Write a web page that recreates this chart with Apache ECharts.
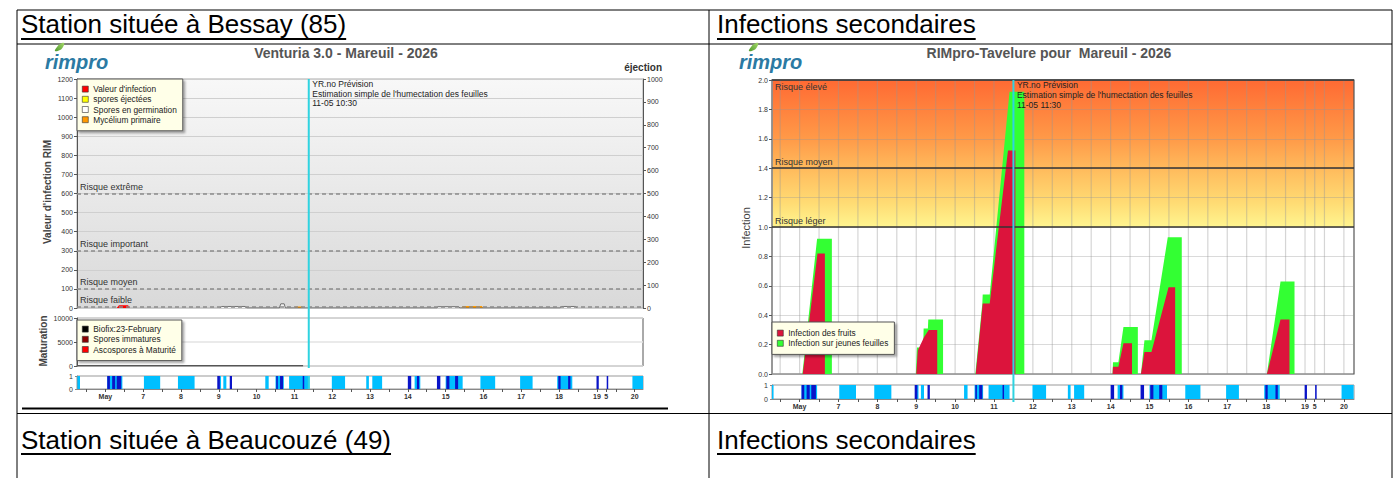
<!DOCTYPE html>
<html><head><meta charset="utf-8">
<script src="https://cdn.jsdelivr.net/npm/echarts@6/dist/echarts.min.js"></script>
<style>html,body{margin:0;padding:0;background:#fff}#c{width:1394px;height:478px}</style>
</head><body><div id="c"></div>
<script>
// ================= DATA =================
const headerLeftTop = 'Station située à Bessay (85)';
const headerRightTop = 'Infections secondaires';
const headerLeftBottom = 'Station située à Beaucouzé (49)';
const headerRightBottom = 'Infections secondaires';
const leftTitle = 'Venturia 3.0 - Mareuil - 2026';
const rightTitle = 'RIMpro-Tavelure pour  Mareuil - 2026';

// x axis in days of May
const leftXMin = 5.25, leftXMax = 20.22;
const rightXMin = 5.29, rightXMax = 20.26;
const dayTickValues = [6, 7, 8, 9, 10, 11, 12, 13, 14, 15, 16, 17, 18, 19, 19.25, 20];
const dayTickLabels = ['May', '7', '8', '9', '10', '11', '12', '13', '14', '15', '16', '17', '18', '19', '5', '20'];
const halfDayTicks = [5.5, 6, 6.5, 7, 7.5, 8, 8.5, 9, 9.5, 10, 10.5, 11, 11.5, 12, 12.5, 13, 13.5, 14, 14.5, 15, 15.5, 16, 16.5, 17, 17.5, 18, 18.5, 19, 19.25, 19.5, 20];

// leaf wetness (light blue) and rain (dark blue) periods [start, end]
const wetBands = [[5.26, 5.33], [6.05, 6.45], [7.02, 7.45], [7.92, 8.36], [9.02, 9.05], [9.12, 9.2], [10.23, 10.32], [10.5, 10.72], [10.86, 11.4], [11.99, 12.34], [12.9, 12.97], [13.06, 13.32], [14.18, 14.33], [15.0, 15.45], [15.92, 16.31], [16.97, 17.3], [17.95, 18.35], [19.94, 20.25]];
const rainBands = [[6.05, 6.12], [6.18, 6.26], [6.3, 6.42], [8.96, 9.03], [9.29, 9.35], [10.52, 10.56], [10.62, 10.7], [11.22, 11.25], [14.0, 14.09], [14.24, 14.3], [14.77, 14.86], [15.02, 15.1], [15.25, 15.33], [17.98, 18.04], [18.24, 18.3], [18.99, 19.05], [19.26, 19.3]];

// Venturia chart (left)
const rimInfection = [[6.3, 0], [6.36, 14], [6.6, 14], [6.65, 0]];
const sporesEjected = [];
const sporesGermination = [[9.03, 0], [9.08, 8], [9.7, 8], [9.74, 0], [10.6, 0], [10.64, 22], [10.73, 22], [10.76, 0], [14.76, 0], [14.8, 7], [15.34, 7], [15.38, 0], [18.03, 0], [18.07, 8], [18.44, 8], [18.47, 0]];
const myceliumPrimary = [[11.01, 0], [11.03, 8], [11.21, 8], [11.23, 0], [15.42, 0], [15.45, 10], [15.96, 10], [15.99, 0]];
const leftRiskValues = [600, 300, 100, 8];
const leftRiskLabels = ['Risque extrême', 'Risque important', 'Risque moyen', 'Risque faible'];
const biofixLine = [[5.25, 60], [11.23, 60]];
const sporesImmatures = [];
const ascosporesMature = [];
const leftForecast = 11.38;
const leftForecastNote = ['YR.no Prévision', "Estimation simple de l'humectation des feuilles", '11-05 10:30'];

// RIMpro-Tavelure chart (right)
const fruitInfection = [[6.08, 0], [6.46, 0.82], [6.65, 0.82], [6.65, 0], [9.0, 0], [9.04, 0.16], [9.2, 0.25], [9.32, 0.30], [9.54, 0.30], [9.54, 0], [10.53, 0], [10.71, 0.48], [10.89, 0.48], [11.36, 1.52], [11.55, 1.52], [11.55, 0], [14.05, 0], [14.06, 0.05], [14.2, 0.05], [14.33, 0.21], [14.55, 0.21], [14.55, 0], [14.78, 0], [14.87, 0.15], [15.05, 0.15], [15.49, 0.59], [15.66, 0.59], [15.66, 0], [18.02, 0], [18.37, 0.37], [18.6, 0.37], [18.6, 0]];
const leafInfection = [[6.07, 0], [6.45, 0.92], [6.83, 0.92], [6.83, 0], [8.99, 0], [9.02, 0.18], [9.18, 0.18], [9.19, 0.31], [9.3, 0.31], [9.31, 0.37], [9.69, 0.37], [9.69, 0], [10.52, 0], [10.7, 0.48], [10.71, 0.54], [10.89, 0.54], [11.4, 1.92], [11.78, 1.92], [11.78, 0], [14.05, 0], [14.06, 0.08], [14.2, 0.08], [14.33, 0.32], [14.7, 0.32], [14.7, 0], [14.78, 0], [14.87, 0.23], [15.05, 0.23], [15.47, 0.93], [15.83, 0.93], [15.83, 0], [18.02, 0], [18.37, 0.63], [18.73, 0.63], [18.73, 0]];
const rightRiskValues = [2.0, 1.4, 1.0];
const rightRiskLabels = ['Risque élevé', 'Risque moyen', 'Risque léger'];
const rightForecast = 11.50;
const rightForecastNote = ['YR.no Prévision', "Estimation simple de l'humectation des feuilles", '11-05 11:30'];

// ================= LAYOUT =================
const FONT = '"Liberation Sans", Arial, sans-serif';
const L = {
  lm: {left: 77, top: 79, width: 566, height: 229},
  lmat: {left: 77, top: 318, width: 566, height: 48},
  lstrip: {left: 77, top: 376, width: 566, height: 13},
  rm: {left: 772, top: 80, width: 582, height: 294},
  rstrip: {left: 772, top: 385, width: 582, height: 14}
};
const WET = '#00bfff', RAIN = '#0a14c8', CYAN = '#2fd3e0';

const measureCtx = document.createElement('canvas').getContext('2d');
function textWidth(t, font) { measureCtx.font = font; return measureCtx.measureText(t).width; }

const HEAD_SIZE = 26;
const headFont = HEAD_SIZE + 'px "Liberation Sans", Arial, sans-serif';

function header(text, x, yMid, underlineY) {
  const w = textWidth(text, headFont);
  return [
    {type: 'text', x: x, y: yMid, style: {text, fontSize: HEAD_SIZE, fontFamily: FONT, fill: '#000', verticalAlign: 'middle'}},
    {type: 'line', shape: {x1: x, y1: underlineY, x2: x + w, y2: underlineY}, style: {stroke: '#000', lineWidth: 1.8}}
  ];
}
function hline(y, x1, x2, w) { return {type: 'line', shape: {x1, y1: y, x2, y2: y}, style: {stroke: '#000', lineWidth: w || 1}}; }
function vline(x, y1, y2, w) { return {type: 'line', shape: {x1: x, y1, x2: x, y2}, style: {stroke: '#000', lineWidth: w || 1}}; }
function logo(x, y) {
  return [
    {type: 'polygon', shape: {points: [[x + 10, y - 1], [x + 12, y - 5], [x + 15, y - 8], [x + 19, y - 9], [x + 18, y - 5], [x + 15, y - 2]], smooth: 0.5},
      style: {fill: new echarts.graphic.LinearGradient(0, 1, 1, 0, [{offset: 0, color: '#4e9a2c'}, {offset: 1, color: '#a6d96a'}])}},
    {type: 'text', x: x, y: y, style: {text: 'rimpro', fontSize: 20, fontStyle: 'italic', fontWeight: 'bold', fontFamily: FONT, fill: '#2b7aa3', verticalAlign: 'top'}}
  ];
}

const graphics = [].concat(
  [hline(10, 17, 1392, 1), hline(44, 17, 1392, 1), hline(408.5, 22, 668, 2), hline(413.5, 17, 1392, 1),
   vline(17, 10, 478), vline(709, 10, 478), vline(1392, 10, 478)],
  header(headerLeftTop, 21, 24, 39),
  header(headerRightTop, 717, 24, 39),
  header(headerLeftBottom, 21, 440, 454),
  header(headerRightBottom, 717, 440, 454),
  logo(45, 52), logo(739, 52),
  [
    {type: 'text', x: 346, y: 53, style: {text: leftTitle, fontSize: 14, fontWeight: 'bold', fontFamily: FONT, fill: '#555', align: 'center', verticalAlign: 'middle'}},
    {type: 'text', x: 1049, y: 53, style: {text: rightTitle, fontSize: 14, fontWeight: 'bold', fontFamily: FONT, fill: '#555', align: 'center', verticalAlign: 'middle'}},
    {type: 'text', x: 662, y: 67, style: {text: 'éjection', fontSize: 10, fontWeight: 'bold', fontFamily: FONT, fill: '#333', align: 'right', verticalAlign: 'middle'}},
    {type: 'text', x: 47, y: 192, rotation: Math.PI / 2, style: {text: "Valeur d'infection RIM", fontSize: 10, fontWeight: 'bold', fontFamily: FONT, fill: '#444', align: 'center', verticalAlign: 'middle'}},
    {type: 'text', x: 43, y: 341, rotation: Math.PI / 2, style: {text: 'Maturation', fontSize: 10, fontWeight: 'bold', fontFamily: FONT, fill: '#444', align: 'center', verticalAlign: 'middle'}},
    {type: 'text', x: 746, y: 228, rotation: Math.PI / 2, style: {text: 'Infection', fontSize: 11, fontFamily: FONT, fill: '#444', align: 'center', verticalAlign: 'middle'}}
  ]
);

const plain = v => String(v);
const smallLabel = {fontSize: 7, color: '#333', fontFamily: FONT, formatter: plain};
function hiddenX(gi, min, max) {
  return {type: 'value', gridIndex: gi, min, max, axisLine: {show: false}, axisTick: {show: false}, axisLabel: {show: false}, splitLine: {show: false}};
}
function stripX(gi, min, max) {
  return {
    type: 'value', gridIndex: gi, min, max,
    axisLine: {show: true, lineStyle: {color: '#888'}},
    axisTick: {show: true, length: 3, customValues: halfDayTicks, lineStyle: {color: '#555'}},
    axisLabel: {show: true, customValues: dayTickValues, margin: 4, fontSize: 7, fontWeight: 'bold', color: '#333', fontFamily: FONT,
      formatter: v => { const i = dayTickValues.indexOf(v); return i >= 0 ? dayTickLabels[i] : ''; }},
    splitLine: {show: false}
  };
}
function stripY(gi) {
  return {type: 'value', gridIndex: gi, min: 0, max: 1, interval: 1, axisLine: {show: true, lineStyle: {color: '#888'}},
    axisTick: {show: true, length: 2}, axisLabel: Object.assign({margin: 4}, smallLabel), splitLine: {show: false}};
}
function bandSeries(xi, yi, bands, color) {
  return {
    type: 'custom', xAxisIndex: xi, yAxisIndex: yi, data: bands, clip: true, silent: true,
    encode: {x: [0, 1]},
    renderItem: (params, api) => {
      const p0 = api.coord([api.value(0), 1]);
      const p1 = api.coord([api.value(1), 0]);
      return {type: 'rect', shape: {x: p0[0], y: p0[1], width: Math.max(p1[0] - p0[0], 1.5), height: p1[1] - p0[1]}, style: {fill: color}};
    }
  };
}
function forecastSeries(xi, yi, value, yTop, segments, note, lh) {
  return {
    type: 'custom', xAxisIndex: xi, yAxisIndex: yi, data: [[value, yTop]], clip: false, silent: true, z: 5,
    renderItem: (params, api) => {
      const p = api.coord([api.value(0), api.value(1)]);
      const children = segments.map(s => ({type: 'line', shape: {x1: p[0], y1: s[0], x2: p[0], y2: s[1]}, style: {stroke: CYAN, lineWidth: 2}}));
      note.forEach((t, i) => children.push({type: 'text', style: {text: t, x: p[0] + 3.5, y: p[1] + 5 + i * lh, fontSize: 8.5, fontFamily: FONT, fill: '#222', verticalAlign: 'middle'}}));
      return {type: 'group', children};
    }
  };
}
function areaSeries(name, xi, yi, data, fill, stroke) {
  return {name, type: 'line', xAxisIndex: xi, yAxisIndex: yi, data, symbol: 'none', silent: true,
    lineStyle: {width: stroke ? 0.8 : 0, color: stroke || fill}, itemStyle: {color: fill}, areaStyle: {color: fill, opacity: 1}};
}
function legendBox(left, top, items, pad) {
  return {
    left, top, orient: 'vertical', icon: 'rect', itemWidth: 6, itemHeight: 6, itemGap: 0, selectedMode: false,
    padding: pad, backgroundColor: '#ffffe8', borderColor: '#555', borderWidth: 1,
    shadowColor: 'rgba(0,0,0,0.35)', shadowOffsetX: 2, shadowOffsetY: 2, shadowBlur: 2,
    textStyle: {fontSize: 8.3, lineHeight: 10.2, color: '#222', fontFamily: FONT, padding: 0},
    data: items.map(it => ({name: it[0], itemStyle: {color: it[1], borderColor: '#333', borderWidth: 0.6}}))
  };
}

const option = {
  animation: false,
  backgroundColor: '#fff',
  textStyle: {fontFamily: FONT},
  graphic: graphics,
  legend: [
    legendBox(77, 79, [["Valeur d'infection", '#ff0000'], ['spores éjectées', '#ffff00'], ['Spores en germination', '#ffffff'], ['Mycélium primaire', '#ff9900']], [5, 6, 6, 5]),
    legendBox(77, 320, [['Biofix:23-February', '#000000'], ['Spores immatures', '#8b0000'], ['Ascospores à Maturité', '#ff0000']], [4, 6, 6, 5]),
    legendBox(772, 322, [['Infection des fruits', '#dc143c'], ['Infection sur jeunes feuilles', '#33ff33']], [6, 6, 6, 5])
  ],
  grid: [
    Object.assign({show: true, outerBoundsMode: 'none', borderColor: '#aaa', borderWidth: 1,
      backgroundColor: new echarts.graphic.LinearGradient(0, 0, 0, 1, [{offset: 0, color: '#f8f8f8'}, {offset: 1, color: '#d9d9d9'}])}, L.lm),
    Object.assign({show: true, outerBoundsMode: 'none', borderColor: '#555', borderWidth: 1, backgroundColor: '#fff'}, L.lmat),
    Object.assign({show: true, outerBoundsMode: 'none', borderColor: '#999', borderWidth: 1, backgroundColor: '#fff'}, L.lstrip),
    Object.assign({show: true, outerBoundsMode: 'none', borderColor: '#555', borderWidth: 1.2,
      backgroundColor: new echarts.graphic.LinearGradient(0, 0, 0, 1, [
        {offset: 0, color: '#ff6a33'}, {offset: 0.2, color: '#ff9a48'}, {offset: 0.32, color: '#ffc060'},
        {offset: 0.42, color: '#ffdc74'}, {offset: 0.5, color: '#fff590'}, {offset: 0.5, color: '#ffffff'}, {offset: 1, color: '#ffffff'}])}, L.rm),
    Object.assign({show: true, outerBoundsMode: 'none', borderColor: '#999', borderWidth: 1, backgroundColor: '#fff'}, L.rstrip)
  ],
  xAxis: [
    hiddenX(0, leftXMin, leftXMax),
    hiddenX(1, leftXMin, leftXMax),
    stripX(2, leftXMin, leftXMax),
    hiddenX(3, rightXMin, rightXMax),
    stripX(4, rightXMin, rightXMax)
  ],
  yAxis: [
    {type: 'value', gridIndex: 0, min: 0, max: 1200, interval: 100, axisLine: {show: true, lineStyle: {color: '#555'}},
      axisTick: {show: true, length: 3, lineStyle: {color: '#555'}}, axisLabel: Object.assign({margin: 4}, smallLabel), splitLine: {show: true, lineStyle: {color: '#cfcfcf'}}},
    {type: 'value', gridIndex: 0, position: 'right', min: 0, max: 1000, interval: 100, axisLine: {show: true, lineStyle: {color: '#555'}},
      axisTick: {show: true, length: 3, lineStyle: {color: '#555'}}, axisLabel: Object.assign({margin: 4}, smallLabel), splitLine: {show: false}},
    {type: 'value', gridIndex: 1, min: 0, max: 10000, interval: 5000, axisLine: {show: true, lineStyle: {color: '#555'}},
      axisTick: {show: true, length: 3}, axisLabel: Object.assign({margin: 4}, smallLabel), splitLine: {show: true, lineStyle: {color: '#e3e3e3', width: 1.5}}},
    stripY(2),
    {type: 'value', gridIndex: 3, min: 0, max: 2, interval: 0.2, axisLine: {show: true, lineStyle: {color: '#999', width: 1.5}},
      axisTick: {show: true, length: 3, lineStyle: {color: '#555'}}, axisLabel: Object.assign({}, smallLabel, {margin: 4, formatter: v => v.toFixed(1)}),
      splitLine: {show: true, lineStyle: {color: 'rgba(150,150,150,0.35)'}}},
    stripY(4)
  ],
  series: [
    Object.assign(areaSeries("Valeur d'infection", 0, 0, rimInfection, '#ff0000'), {
      markLine: {silent: true, symbol: 'none', animation: false,
        lineStyle: {color: '#8a8a8a', type: [4, 3], width: 1.6},
        label: {position: 'insideStartTop', fontSize: 9, color: '#333', fontFamily: FONT, distance: [3, 2], formatter: p => leftRiskLabels[leftRiskValues.indexOf(p.value)]},
        data: leftRiskValues.map(v => ({yAxis: v}))}
    }),
    areaSeries('spores éjectées', 0, 0, sporesEjected, '#ffff00', '#888'),
    areaSeries('Spores en germination', 0, 0, sporesGermination, '#f2f2f2', '#555'),
    areaSeries('Mycélium primaire', 0, 0, myceliumPrimary, '#ff9900'),
    {name: 'Biofix:23-February', type: 'line', xAxisIndex: 1, yAxisIndex: 2, data: biofixLine, symbol: 'none', silent: true, lineStyle: {color: '#555', width: 1.5}, itemStyle: {color: '#000'}},
    {name: 'Spores immatures', type: 'line', xAxisIndex: 1, yAxisIndex: 2, data: sporesImmatures, symbol: 'none', itemStyle: {color: '#8b0000'}},
    {name: 'Ascospores à Maturité', type: 'line', xAxisIndex: 1, yAxisIndex: 2, data: ascosporesMature, symbol: 'none', itemStyle: {color: '#ff0000'}},
    bandSeries(2, 3, wetBands, WET),
    bandSeries(2, 3, rainBands, RAIN),
    forecastSeries(0, 0, leftForecast, 1200,
      [[L.lm.top, L.lmat.top + L.lmat.height + 2], [L.lstrip.top, L.lstrip.top + L.lstrip.height]], leftForecastNote, 9.7),
    {type: 'custom', xAxisIndex: 3, yAxisIndex: 4, data: halfDayTicks.map(v => [v]), clip: true, silent: true,
      renderItem: (params, api) => {
        const a = api.coord([api.value(0), 0]), b = api.coord([api.value(0), 2]);
        return {type: 'line', shape: {x1: a[0], y1: a[1], x2: b[0], y2: b[1]}, style: {stroke: 'rgba(150,150,150,0.4)', lineWidth: 1.2}};
      }},
    areaSeries('Infection sur jeunes feuilles', 3, 4, leafInfection, '#33ff33'),
    Object.assign(areaSeries('Infection des fruits', 3, 4, fruitInfection, '#dc143c'), {
      markLine: {silent: true, symbol: 'none', animation: false,
        lineStyle: {color: '#333', type: 'solid', width: 1.5},
        label: {fontSize: 9, color: '#333', fontFamily: FONT, distance: [3, 2], formatter: p => rightRiskLabels[rightRiskValues.indexOf(p.value)]},
        data: rightRiskValues.map(v => ({yAxis: v, label: {position: v === 2.0 ? 'insideStartBottom' : 'insideStartTop'}}))}
    }),
    bandSeries(4, 5, wetBands, WET),
    bandSeries(4, 5, rainBands, RAIN),
    forecastSeries(3, 4, rightForecast, 2,
      [[L.rm.top, L.rstrip.top + L.rstrip.height + 3]], rightForecastNote, 10)
  ]
};

const chart = echarts.init(document.getElementById('c'), null, {renderer: 'svg', width: 1394, height: 478});
chart.setOption(option);
</script>
</body></html>
